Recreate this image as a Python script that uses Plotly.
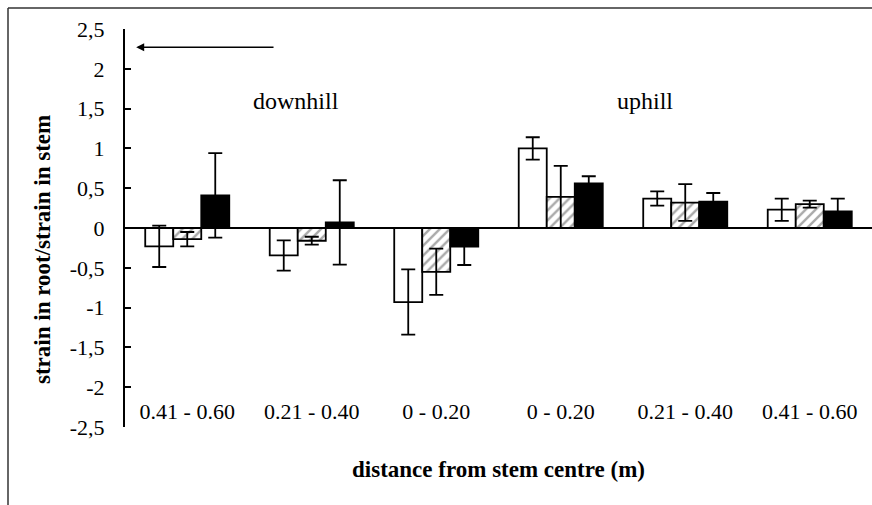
import plotly.graph_objects as go

categories = ["0.41 - 0.60", "0.21 - 0.40", "0 - 0.20", "0 - 0.20", "0.21 - 0.40", "0.41 - 0.60"]
positions = [0, 1, 2, 3, 4, 5]

white_vals = [-0.23, -0.345, -0.93, 1.0, 0.37, 0.23]
white_err = [0.26, 0.19, 0.41, 0.14, 0.09, 0.14]
hatch_vals = [-0.14, -0.16, -0.55, 0.39, 0.32, 0.30]
hatch_err = [0.09, 0.05, 0.29, 0.39, 0.23, 0.045]
black_vals = [0.41, 0.07, -0.235, 0.56, 0.33, 0.21]
black_err = [0.53, 0.53, 0.23, 0.09, 0.11, 0.16]

y_ticks = [-2.5, -2, -1.5, -1, -0.5, 0, 0.5, 1, 1.5, 2, 2.5]
y_tick_text = [("%g" % v).replace(".", ",") for v in y_ticks]

FONT = "Liberation Serif, Times New Roman, serif"

def err(arr):
    return dict(type="data", array=arr, visible=True, color="black", thickness=1.8, width=7)

fig = go.Figure()
fig.add_trace(go.Bar(x=positions, y=white_vals, error_y=err(white_err),
                     marker=dict(color="white", line=dict(color="black", width=1.8))))
fig.add_trace(go.Bar(x=positions, y=hatch_vals, error_y=err(hatch_err),
                     marker=dict(color="white", line=dict(color="black", width=1.8),
                                 pattern=dict(shape="/", fgcolor="#555555", bgcolor="white",
                                              size=7, solidity=0.35))))
fig.add_trace(go.Bar(x=positions, y=black_vals, error_y=err(black_err),
                     marker=dict(color="black", line=dict(color="black", width=1.8))))

# decorative frame (cut at right/bottom as in the reference)
L, T, W, H = 125, 29, 747, 398
def px(x):
    return (x - L) / W
def py(y):
    return 1 - (y - T) / H
fig.add_shape(type="line", xref="paper", yref="paper", x0=px(8), x1=px(8), y0=py(8), y1=py(505),
              line=dict(color="#333333", width=1.5))
fig.add_shape(type="line", xref="paper", yref="paper", x0=px(8), x1=px(872), y0=py(8), y1=py(8),
              line=dict(color="#333333", width=1.5))

# direction arrow
fig.add_annotation(x=-0.41, y=2.27, ax=0.705, ay=2.27, xref="x", yref="y", axref="x", ayref="y",
                   text="", showarrow=True, arrowhead=2, arrowsize=1, arrowwidth=1.6, arrowcolor="black")
fig.add_annotation(x=0.87, y=1.6, xref="x", yref="y", text="downhill", showarrow=False,
                   font=dict(family=FONT, size=24, color="black"))
fig.add_annotation(x=3.68, y=1.6, xref="x", yref="y", text="uphill", showarrow=False,
                   font=dict(family=FONT, size=24, color="black"))

# y-axis title (placed as in the reference, slightly below the plot centre)
fig.add_annotation(x=px(42), y=py(250), xref="paper", yref="paper", xanchor="center", yanchor="middle",
                   text="<b>strain in root/strain in stem</b>", textangle=-90, showarrow=False,
                   font=dict(family=FONT, size=23, color="black"))

fig.update_layout(
    width=872, height=505,
    margin=dict(l=L, r=0, t=T, b=505 - T - H),
    paper_bgcolor="white", plot_bgcolor="white",
    barmode="group", bargap=0.325, bargroupgap=0,
    showlegend=False,
    font=dict(family=FONT, color="black", size=22),
)
fig.update_xaxes(
    range=[-0.5, 5.5], tickmode="array", tickvals=positions, ticktext=categories,
    anchor="free", position=py(396),
    showline=False, showgrid=False, zeroline=False, ticks="",
    tickfont=dict(family=FONT, size=22, color="black"),
    title=dict(text="<b>distance from stem centre (m)</b>", standoff=37,
               font=dict(family=FONT, size=23, color="black")),
)
fig.update_yaxes(
    range=[-2.5, 2.5], tickmode="array", tickvals=y_ticks, ticktext=y_tick_text,
    showline=True, linecolor="black", linewidth=2,
    ticks="inside", ticklen=6, tickwidth=2, tickcolor="black",
    showgrid=False, zeroline=True, zerolinecolor="black", zerolinewidth=2,
    ticklabelstandoff=14,
    tickfont=dict(family=FONT, size=22, color="black"),
)

fig.write_html("out.html")
